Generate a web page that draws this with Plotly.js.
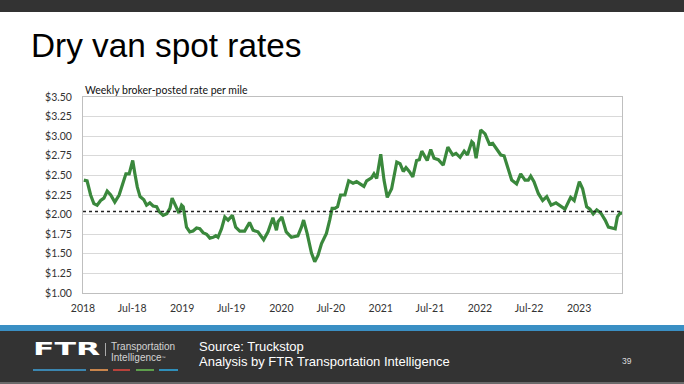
<!DOCTYPE html>
<html>
<head>
<meta charset="utf-8">
<script src="https://cdn.plot.ly/plotly-3.0.1.min.js"></script>
<style>
  html, body { margin: 0; padding: 0; background: #ffffff; }
  body { width: 684px; height: 384px; position: relative; overflow: hidden; font-family: "Liberation Sans", Arial, sans-serif; }
  .abs { position: absolute; }
  #topbar { left: 0; top: 0; width: 684px; height: 12px; background: #333333; }
  #title { left: 31px; top: 28px; font-size: 34px; line-height: 34px; color: #000; white-space: nowrap; transform: scaleX(0.98); transform-origin: left top; }
  #blueband { left: 0; top: 325px; width: 684px; height: 6px; background: #3a8fc4; }
  #footer { left: 0; top: 331px; width: 684px; height: 51px; background: #333333; }
  #footline { left: 0; top: 382px; width: 684px; height: 2px; background: #6a6a6a; }
  #chart { left: 0; top: 0; width: 684px; height: 384px; }
  .ftxt { color: #ffffff; font-size: 13px; line-height: 13px; white-space: nowrap; }
  .ltxt { color: #d4d4d4; font-size: 10px; line-height: 10px; white-space: nowrap; }
  #ftr { left: 33px; top: 340px; font-family: "DejaVu Sans", sans-serif; font-weight: bold; font-size: 18px; line-height: 18px; color: #fff; transform: scaleX(1.75); transform-origin: left top; }
  #sep { left: 105px; top: 343px; width: 1px; height: 13px; background: #aaaaaa; }
  .dash { position: absolute; top: 369px; height: 2px; }
</style>
</head>
<body>
<div class="abs" id="topbar"></div>
<div class="abs" id="title">Dry van spot rates</div>
<div class="abs" id="blueband"></div>
<div class="abs" id="footer"></div>
<div class="abs" id="footline"></div>
<div class="abs" id="ftr">FTR</div>
<div class="abs" id="sep"></div>
<div class="abs ltxt" style="left:111px; top:342px;">Transportation</div>
<div class="abs ltxt" style="left:111px; top:353px;">Intelligence<span style="font-size:4px; vertical-align:top;">™</span></div>
<div class="dash" style="left:33px; width:53px; background:#3b86b0;"></div>
<div class="dash" style="left:90px; width:18px; background:#c9854c;"></div>
<div class="dash" style="left:113px; width:17px; background:#b8423b;"></div>
<div class="dash" style="left:136px; width:18px; background:#5d9e4c;"></div>
<div class="dash" style="left:159px; width:19px; background:#2f8fba;"></div>
<div class="abs ftxt" style="left:199px; top:340px;">Source: Truckstop</div>
<div class="abs ftxt" style="left:199px; top:355px;">Analysis by FTR Transportation Intelligence</div>
<div class="abs" style="left:622px; top:357px; color:#dddddd; font-size:8.5px; line-height:9px;">39</div>
<div class="abs" id="chart"></div>
<script>
// Weekly broker-posted dry van spot rate per mile
const weeks = [
  "2018-01-04","2018-01-16","2018-01-29","2018-02-10","2018-02-22","2018-03-07","2018-03-19","2018-03-31",
  "2018-04-13","2018-04-28","2018-05-14","2018-05-29","2018-06-08","2018-06-20","2018-07-03","2018-07-11",
  "2018-07-20","2018-07-30","2018-08-13","2018-08-23","2018-09-04","2018-09-16","2018-09-29","2018-10-08",
  "2018-10-23","2018-11-05","2018-11-17","2018-11-25","2018-12-08","2018-12-20","2018-12-30","2019-01-05",
  "2019-01-17","2019-01-29","2019-02-10","2019-02-23","2019-03-07","2019-03-19","2019-04-01","2019-04-13",
  "2019-04-25","2019-05-05","2019-05-13","2019-05-26","2019-06-07","2019-06-19","2019-07-05","2019-07-17",
  "2019-08-01","2019-08-19","2019-09-06","2019-09-19","2019-10-07","2019-10-28","2019-11-13","2019-12-01",
  "2019-12-14","2019-12-20","2020-01-03","2020-01-19","2020-02-07","2020-03-02","2020-03-15","2020-03-23",
  "2020-04-05","2020-04-21","2020-05-03","2020-05-15","2020-05-28","2020-06-15","2020-06-27","2020-07-06",
  "2020-07-16","2020-07-26","2020-08-06","2020-08-22","2020-09-05","2020-09-21","2020-10-04","2020-10-16",
  "2020-10-31","2020-11-10","2020-11-28","2020-12-07","2020-12-17","2021-01-01","2021-01-13","2021-01-25",
  "2021-02-10","2021-03-01","2021-03-13","2021-03-25","2021-04-04","2021-04-16","2021-04-29","2021-05-13",
  "2021-05-23","2021-06-01","2021-06-13","2021-06-21","2021-07-04","2021-07-16","2021-08-01","2021-08-19",
  "2021-09-05","2021-09-23","2021-10-05","2021-10-20","2021-11-04","2021-11-16","2021-12-02","2021-12-08",
  "2021-12-18","2022-01-04","2022-01-20","2022-02-05","2022-02-17","2022-03-06","2022-03-19","2022-03-31",
  "2022-04-16","2022-04-28","2022-05-16","2022-05-31","2022-06-16","2022-06-28","2022-07-07","2022-07-19",
  "2022-08-04","2022-08-20","2022-09-04","2022-09-20","2022-10-08","2022-10-25","2022-11-10","2022-12-01",
  "2022-12-14","2023-01-02","2023-01-14","2023-01-29","2023-02-10","2023-02-22","2023-03-07","2023-03-22",
  "2023-04-07","2023-04-19","2023-05-14","2023-05-22","2023-06-01","2023-06-08"
];
const rates = [
  2.44,2.43,2.25,2.14,2.12,2.18,2.21,2.30,
  2.25,2.16,2.25,2.42,2.52,2.52,2.69,2.52,
  2.35,2.23,2.19,2.12,2.15,2.11,2.10,2.04,
  1.99,2.01,2.08,2.21,2.12,2.02,2.12,2.10,
  1.84,1.78,1.79,1.83,1.82,1.77,1.75,1.70,
  1.71,1.73,1.71,1.82,1.97,1.93,1.99,1.84,
  1.79,1.79,1.90,1.80,1.78,1.68,1.78,1.96,
  1.80,1.91,1.97,1.78,1.71,1.73,1.84,1.93,
  1.76,1.51,1.40,1.48,1.63,1.76,1.93,2.08,
  2.08,2.10,2.25,2.25,2.43,2.40,2.42,2.39,
  2.36,2.43,2.47,2.52,2.46,2.77,2.44,2.22,
  2.33,2.67,2.65,2.55,2.60,2.55,2.48,2.69,
  2.70,2.81,2.73,2.69,2.83,2.72,2.70,2.63,
  2.86,2.76,2.78,2.73,2.81,2.76,2.93,2.91,
  2.72,3.08,3.03,2.90,2.91,2.83,2.76,2.75,
  2.59,2.44,2.39,2.52,2.44,2.44,2.49,2.42,
  2.27,2.18,2.23,2.12,2.15,2.11,2.07,2.22,
  2.18,2.42,2.33,2.10,2.07,2.01,2.06,2.02,
  1.93,1.84,1.82,1.97,2.02,2.02
];
const avgRate = 2.04;
const tickDates = ["2018-01-01","2018-07-01","2019-01-01","2019-07-01","2020-01-01","2020-07-01",
                   "2021-01-01","2021-07-01","2022-01-01","2022-07-01","2023-01-01"];
const tickLabels = ["2018","Jul-18","2019","Jul-19","2020","Jul-20","2021","Jul-21","2022","Jul-22","2023"];
const xRange = ["2018-01-01","2023-06-08"];
const yRange = [1, 3.5];
const subtitle = "Weekly broker-posted rate per mile";

const trace = {
  x: weeks, y: rates, type: "scatter", mode: "lines",
  line: { color: "#3a883c", width: 3.2 },
  hoverinfo: "skip"
};

const layout = {
  width: 684, height: 384,
  margin: { l: 83, r: 62, t: 97, b: 91, pad: 0 },
  paper_bgcolor: "rgba(0,0,0,0)",
  plot_bgcolor: "#ffffff",
  showlegend: false,
  font: { family: "Lato, 'Liberation Sans', sans-serif", size: 10.5, color: "#333333" },
  xaxis: {
    type: "date", range: xRange,
    tickmode: "array", tickvals: tickDates, ticktext: tickLabels,
    showgrid: false, zeroline: false,
    showline: true, mirror: true, linecolor: "#bfbfbf", linewidth: 1,
    ticks: "outside", ticklen: 5, tickcolor: "rgba(0,0,0,0)",
    tickfont: { size: 10.5, color: "#333333" }
  },
  yaxis: {
    range: yRange, dtick: 0.25, tick0: 1,
    tickformat: "$.2f",
    showgrid: true, gridcolor: "#d9d9d9", gridwidth: 1,
    zeroline: false,
    showline: true, mirror: true, linecolor: "#bfbfbf", linewidth: 1,
    ticks: "outside", ticklen: 8, tickcolor: "rgba(0,0,0,0)",
    tickfont: { size: 10.5, color: "#333333" }
  },
  shapes: [{
    type: "line", xref: "paper", x0: 0, x1: 1, yref: "y", y0: avgRate, y1: avgRate,
    line: { color: "#222222", width: 1.5, dash: "dot" }
  }],
  annotations: [{
    text: subtitle, xref: "paper", yref: "paper", x: 0, y: 1.0357,
    xanchor: "left", yanchor: "middle", showarrow: false,
    font: { size: 10.5, color: "#111111" }
  }]
};

Plotly.newPlot("chart", [trace], layout, { staticPlot: true, displayModeBar: false });
</script>
</body>
</html>
